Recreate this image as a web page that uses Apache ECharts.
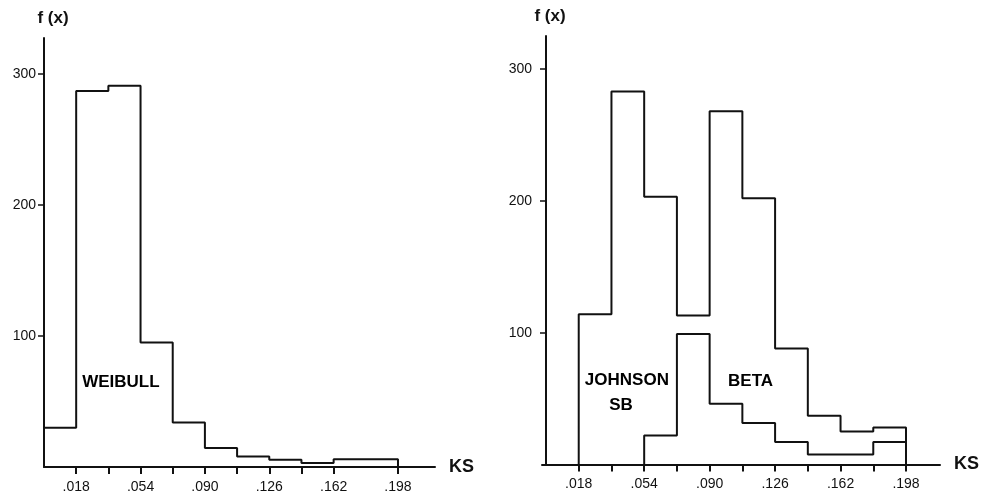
<!DOCTYPE html>
<html>
<head>
<meta charset="utf-8">
<script src="https://cdn.jsdelivr.net/npm/echarts@6/dist/echarts.min.js"></script>
<style>
html,body{margin:0;padding:0;background:#fff;}
#chart{width:987px;height:500px;}
</style>
</head>
<body>
<div id="chart"></div>
<script>
// bin edges of KS statistic (width .018)
var binEdges=[0,0.018,0.036,0.054,0.072,0.090,0.108,0.126,0.144,0.162,0.180,0.198];
// f(x) per bin
var weibull=[30,287,291,95,34,14.5,8,5.5,3,6,6];
var johnsonSB=[0,114,283,203,113,268,202,88,37,25,28];
var beta=[0,0,0,22,99,46,31.5,17,7.5,7.5,17];
var yTicks=[100,200,300];
var xLabels=[0.018,0.054,0.090,0.126,0.162,0.198];
var leftTicks=[0.018,0.036,0.054,0.072,0.090,0.108,0.126,0.144,0.162,0.198];
var rightTicks=[0.018,0.036,0.054,0.072,0.090,0.108,0.126,0.144,0.162,0.180,0.198];

var chart=echarts.init(document.getElementById('chart'));
var ink='#111';
var font='"Liberation Sans", Arial, sans-serif';

// outline of a histogram (only the outer step line, like the drawing)
function stepLine(edges,h){
    var pts=[];
    var first=h.findIndex(function(v){return v>0;});
    pts.push([edges[first],0]);
    for(var i=first;i<h.length;i++){
        pts.push([edges[i],h[i]]);
        pts.push([edges[i+1],h[i]]);
    }
    pts.push([edges[h.length],0]);
    return pts;
}
function fmt(v){return v.toFixed(3).replace(/^0/,'');}

function xAxisCfg(idx,min,max,ticks){
    return {
        type:'value',gridIndex:idx,min:min,max:max,
        name:'KS',nameLocation:'end',nameGap:14,
        nameTextStyle:{color:ink,fontSize:18,fontFamily:font,fontWeight:'bold',verticalAlign:'middle'},
        splitLine:{show:false},
        axisLine:{show:true,lineStyle:{color:ink,width:2}},
        axisTick:{show:true,length:7,customValues:ticks,lineStyle:{color:ink,width:2}},
        axisLabel:{margin:13,color:ink,fontSize:14,fontFamily:font,customValues:xLabels,formatter:fmt}
    };
}
function yAxisCfg(idx,max,shift,margin){
    return {
        type:'value',gridIndex:idx,min:0,max:max,
        name:'f (x)',nameLocation:'end',nameGap:11,
        nameTextStyle:{color:ink,fontSize:17,fontFamily:font,fontWeight:'bold',padding:[0,0,0,shift]},
        splitLine:{show:false},
        axisLine:{show:true,lineStyle:{color:ink,width:2}},
        axisTick:{show:true,length:6,customValues:yTicks,lineStyle:{color:ink,width:1.5}},
        axisLabel:{margin:margin,color:ink,fontSize:14,fontFamily:font,customValues:yTicks}
    };
}
function histSeries(idx,h){
    return {
        type:'line',xAxisIndex:idx,yAxisIndex:idx,data:stepLine(binEdges,h),
        symbol:'none',lineStyle:{color:ink,width:2},silent:true,animation:false
    };
}
function textSeries(idx,items){
    return {
        type:'scatter',xAxisIndex:idx,yAxisIndex:idx,symbolSize:0,silent:true,animation:false,
        data:items,
        itemStyle:{opacity:1},
        label:{show:true,position:'inside',formatter:'{b}',color:'#000',opacity:1,textBorderWidth:0,
            fontSize:17,fontWeight:'bold',fontFamily:font,align:'center'}
    };
}

chart.setOption({
    animation:false,
    backgroundColor:'#fff',
    grid:[
        {left:44,top:38,width:391,height:429},
        {left:542,top:36,width:398,height:428.5}
    ],
    xAxis:[xAxisCfg(0,0,0.2187,leftTicks),xAxisCfg(1,-0.0022,0.2167,rightTicks)],
    yAxis:[yAxisCfg(0,327.5,18,8),yAxisCfg(1,325,8,10)],
    series:[
        histSeries(0,weibull),
        histSeries(1,johnsonSB),
        histSeries(1,beta),
        textSeries(0,[{name:'WEIBULL',value:[0.043,65]}]),
        textSeries(1,[
            {name:'JOHNSON',value:[0.0445,64]},
            {name:'SB',value:[0.0413,45]},
            {name:'BETA',value:[0.1125,63]}
        ])
    ]
});
</script>
</body>
</html>
